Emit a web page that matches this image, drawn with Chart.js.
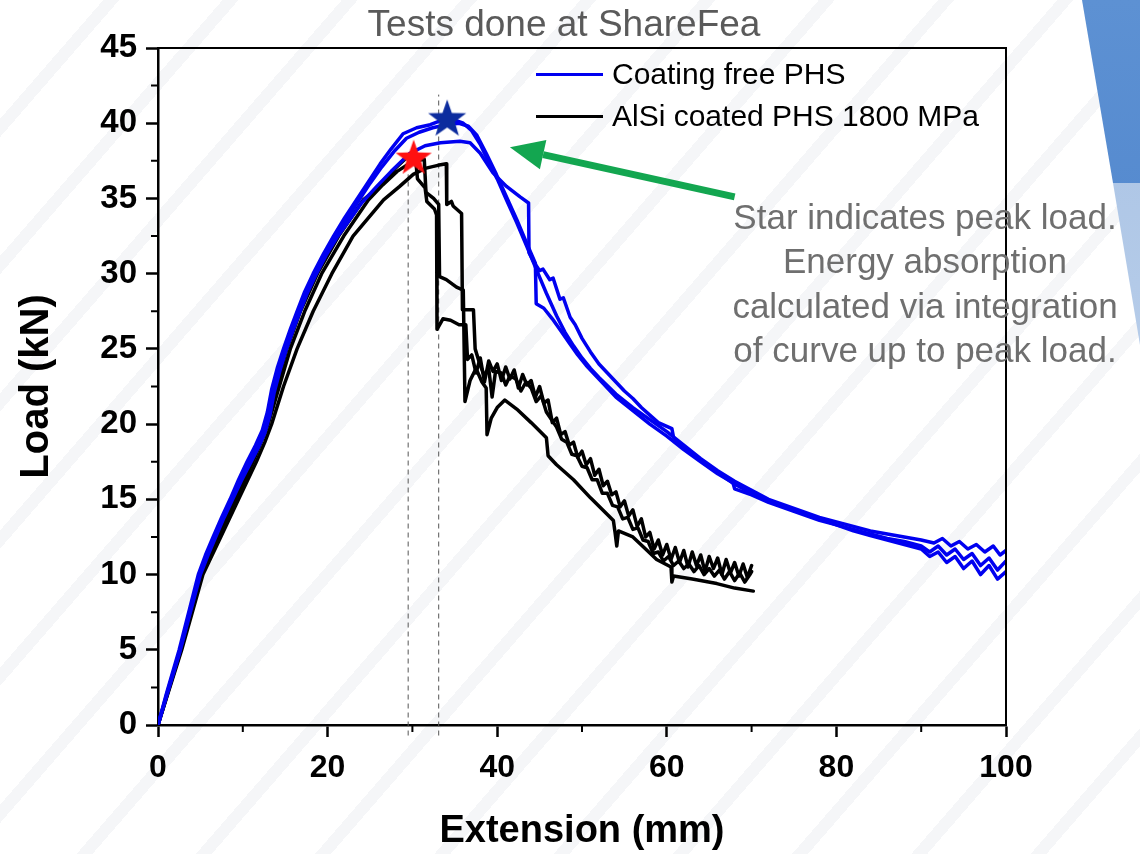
<!DOCTYPE html>
<html>
<head>
<meta charset="utf-8">
<script src="https://cdn.jsdelivr.net/npm/chart.js@4.4.1/dist/chart.umd.min.js"></script>
<style>
  html, body { margin: 0; padding: 0; }
  body {
    width: 1140px; height: 854px; overflow: hidden; position: relative;
    background-color: #fff;
    background-image: repeating-linear-gradient(131deg, rgba(255,255,255,0) 0px, rgba(255,255,255,0) 78px, #f5f6f8 78px, #f5f6f8 90px);
    font-family: 'Liberation Sans', Arial, sans-serif;
  }
  #chart { position: absolute; left: 0; top: 0; }
  .deco-dark {
    position: absolute; left: 0; top: 0; width: 1140px; height: 854px;
    background: linear-gradient(180deg, #5d91d3 0%, #3e76c3 100%);
    clip-path: polygon(1082px 0, 1140px 0, 1140px 183px, 1113px 183px);
  }
  .deco-light {
    position: absolute; left: 0; top: 0; width: 1140px; height: 854px;
    background: linear-gradient(180deg, #a8c2e4 0%, #c9daf0 100%);
    clip-path: polygon(1113px 183px, 1140px 183px, 1140px 345px);
  }
  .title {
    position: absolute; left: 364px; width: 400px; top: 4px;
    text-align: center; font-size: 37px; line-height: 40px; color: #5a5a5a; white-space: nowrap;
  }
  .legend { position: absolute; left: 536px; font-size: 30px; color: #000; white-space: nowrap; }
  .legend .swatch { position: absolute; left: 0; width: 67px; height: 3px; top: 19px; }
  .legend .label { position: absolute; left: 76px; top: 0; line-height: 40px; }
  .note {
    position: absolute; left: 715px; width: 420px; top: 195px;
    text-align: center; font-size: 35px; line-height: 44.3px; color: #6f6f6f;
  }
</style>
</head>
<body>
<div class="deco-dark"></div>
<div class="deco-light"></div>
<canvas id="chart" width="1140" height="854"></canvas>
<div class="title">Tests done at ShareFea</div>
<div class="legend" style="top:54px"><div class="swatch" style="background:#0000f0"></div><div class="label">Coating free PHS</div></div>
<div class="legend" style="top:96px"><div class="swatch" style="background:#000"></div><div class="label">AlSi coated PHS 1800 MPa</div></div>
<div class="note">Star indicates peak load.<br>Energy absorption<br>calculated via integration<br>of curve up to peak load.</div>
<script>
// Extension (mm) / Load (kN) pairs
const coatingFree1 = [[0,0],[1,2.1],[2.5,5],[4.75,10],[5.6,11.3],[6.5,12.5],[7.5,13.8],[8.5,15],[9.5,16.3],[10.5,17.5],[11.5,18.6],[12.3,19.6],[12.9,20.8],[13.4,22.3],[14.1,23.8],[14.8,25],[15.6,26.3],[16.4,27.5],[17.3,28.8],[18.3,30],[19.5,31.3],[20.7,32.5],[22,33.7],[23.4,34.9],[24.8,36.1],[26.2,37.3],[27.5,38.3],[28.9,39.3],[30.5,39.7],[32.1,39.9],[33.5,40.2],[35,40.2],[36,40.0],[37,39.5],[38,38.6],[39,37.4],[40,36.3],[41.1,34.9],[42.3,33.4],[43.5,31.8],[44.6,30.3],[45.8,28.7],[47,27.2],[48,26.1],[49,25.2],[50,24.4],[51,23.7],[52,23.1],[54,22.0],[56,21.1],[58,20.3],[60,19.5],[62,18.6],[64,17.7],[66,16.9],[68,16.2],[70,15.6],[72,15.0],[74,14.6],[76,14.2],[78,13.8],[80,13.5],[82,13.2],[84,12.9],[86,12.7],[88,12.5],[90,12.3],[91.5,12.1],[92.5,12.4],[93.5,11.9],[94.5,12.2],[95.5,11.7],[96.5,12.0],[97.5,11.5],[98.5,11.9],[99.3,11.3],[100,11.6]];
const coatingFree2 = [[0,0],[1,2.0],[2.5,4.8],[4.9,10],[5.8,11.3],[6.7,12.5],[7.7,13.8],[8.7,15],[9.7,16.2],[10.7,17.4],[11.7,18.5],[12.5,19.5],[13.1,20.7],[13.6,22.2],[14.3,23.7],[15,25],[15.8,26.3],[16.6,27.5],[17.5,28.8],[18.5,30],[19.7,31.3],[20.9,32.5],[22.2,33.6],[23.6,34.8],[25,36.0],[26.4,37.1],[27.8,38.1],[29.3,39.0],[30.8,39.4],[32.4,39.7],[34,39.9],[35.5,40.0],[36.6,39.8],[37.6,39.2],[38.7,38.0],[39.9,36.6],[41.1,35.1],[42.3,33.6],[43.5,32.0],[44.5,30.7],[44.6,28.0],[45.5,27.7],[46.5,27.0],[47.5,26.2],[48.5,25.4],[49.5,24.6],[50.5,23.9],[52,23.0],[54,21.8],[56,20.9],[58,20.0],[60,19.2],[62,18.3],[64,17.5],[66,16.7],[67.8,16.1],[68,15.7],[70,15.3],[72,14.8],[74,14.4],[76,14.0],[78,13.6],[80,13.3],[82,13.0],[84,12.7],[86,12.4],[88,12.2],[90,11.9],[91,11.5],[92,11.9],[93,11.3],[94,11.7],[95,11.0],[96,11.4],[97,10.6],[98,11.1],[99,10.3],[100,10.9]];
const coatingFree3 = [[0,0],[1,1.9],[2.5,4.7],[5.0,10],[5.9,11.3],[6.8,12.5],[7.8,13.8],[8.8,15],[9.8,16.2],[10.8,17.3],[11.8,18.4],[12.6,19.4],[13.2,20.6],[13.7,22.1],[14.4,23.6],[15.1,24.9],[15.9,26.2],[16.7,27.4],[17.6,28.7],[18.6,29.9],[19.8,31.2],[21.1,32.4],[22.5,33.5],[24,34.7],[25.8,35.8],[27.5,36.8],[29.7,38.0],[31.5,38.5],[33.3,38.7],[35.6,38.8],[36.8,38.7],[38.0,38.0],[39.5,36.7],[41.1,35.8],[42.7,35.1],[43.7,34.7],[43.75,31.4],[44.3,30.8],[45,30.2],[45.4,30.3],[46.2,29.6],[46.6,29.7],[47.4,28.3],[47.8,28.4],[48.6,27.1],[49.2,26.6],[50,25.7],[51,24.8],[52,24.0],[53,23.4],[54,22.8],[55,22.2],[56,21.7],[57,21.1],[58,20.6],[59,20.1],[60.6,19.7],[60.8,19.1],[62,18.4],[64,17.6],[66,16.8],[68,16.0],[70,15.4],[72,14.9],[74,14.5],[76,14.1],[78,13.7],[80,13.3],[82,12.9],[84,12.6],[86,12.3],[88,12.0],[90,11.7],[91,11.2],[92,11.5],[93,10.8],[94,11.2],[95,10.4],[96,10.9],[97,10.0],[98,10.6],[99,9.7],[100,10.2]];

const coated1 = [[0,0],[1,1.9],[2.6,5],[5.0,10],[6.9,12.5],[8.9,15],[10.9,17.5],[11.9,18.7],[12.8,20],[14.0,22.5],[15.2,25],[16.8,27.5],[18.8,30],[21.3,32.5],[24.2,34.9],[26.2,35.8],[28,37.0],[29.3,37.7],[30.0,38.0],[30.4,37.5],[30.6,36.3],[31.5,35.7],[31.7,34.8],[32.6,34.3],[32.85,33.9],[32.9,26.3],[33.6,27.0],[34.5,26.9],[35.5,26.6],[36.3,26.6],[36.5,24.3],[37,24.6],[37.5,23.4],[38,24.4],[38.5,22.8],[39,24.2],[39.5,23.5],[40,24.0],[40.5,22.9],[41,23.8],[41.5,23.0],[42,23.6],[42.5,22.4],[43,23.3],[43.5,22.6],[44,22.9],[44.5,21.8],[45,22.5],[45.5,21.4],[46,21.6],[46.5,20.1],[47,20.4],[47.5,19.3],[48,19.5],[48.5,18.6],[49,18.8],[49.5,17.8],[50,18.2],[50.5,17.3],[51,17.7],[51.5,16.6],[52,17.0],[52.5,15.9],[53,16.2],[53.5,15.3],[54,15.5],[54.5,14.5],[55,14.9],[55.5,13.9],[56,14.3],[56.5,13.2],[57,13.7],[57.5,12.5],[58,12.8],[58.5,11.7],[59,12.3],[59.5,11.3],[60,12.0],[60.5,11.0],[61,11.8],[61.5,10.8],[62,11.6],[62.5,10.5],[63,11.5],[63.5,10.6],[64,11.3],[64.5,10.2],[65,11.2],[65.5,10.4],[66,11.1],[66.5,10.0],[67,11.0],[67.5,10.1],[68,10.8],[68.5,9.9],[69,10.7],[69.5,9.8],[70,10.6]];
const coated2 = [[0,0],[1,1.85],[2.7,5],[5.2,10],[7.2,12.5],[9.2,15],[11.2,17.5],[12.1,18.7],[13.0,20],[14.3,22.5],[15.6,25],[17.3,27.5],[19.3,30],[21.9,32.5],[24.8,34.9],[26.5,35.9],[28.2,36.8],[29.6,37.3],[30.5,37.5],[31.4,37.6],[31.6,35.4],[32.5,35.0],[33.1,34.6],[33.2,29.8],[34,29.6],[35.2,29.1],[36.0,28.9],[36.2,21.5],[36.8,22.9],[37.5,23.7],[38.2,22.8],[38.7,22.4],[38.8,19.3],[39.3,20.4],[40,21.1],[40.9,21.6],[42.3,21.0],[44,20.1],[45.8,19.1],[46.0,17.9],[47,17.3],[49,16.3],[51,15.1],[53.7,13.6],[53.9,12.8],[54.1,11.9],[54.3,12.9],[56,12.5],[57.5,11.7],[58.8,11.0],[60.5,10.5],[60.6,9.5],[60.8,9.9],[63,9.7],[65.9,9.4],[68,9.1],[70.2,8.9]];
const coated3 = [[0,0],[1,1.8],[2.8,5],[5.3,10],[7.4,12.5],[9.5,15],[11.6,17.5],[12.6,18.8],[13.4,20],[14.8,22.5],[16.4,25],[18.3,27.5],[20.5,30],[23,32.5],[26.6,34.9],[28.5,35.8],[30.1,36.6],[31.5,37.0],[33,37.2],[34.0,37.3],[34.05,34.6],[34.6,34.8],[34.8,34.5],[35.8,34.0],[35.9,27.6],[37.2,27.6],[37.4,25.0],[38.0,23.9],[38.5,23.2],[39.0,23.7],[39.4,21.8],[39.8,23.5],[40.5,23.4],[41.0,22.6],[41.5,23.2],[42.2,23.0],[42.8,22.2],[43.4,22.8],[44,22.4],[44.6,21.5],[45.2,21.9],[45.8,20.8],[46.4,20.3],[47.0,19.8],[47.6,19.0],[48.2,18.8],[48.8,18.0],[49.4,17.9],[50,17.2],[50.6,17.1],[51.2,16.3],[51.8,16.3],[52.4,15.4],[53,15.4],[53.6,14.6],[54.2,14.5],[54.8,13.7],[55.4,13.8],[56,13.0],[56.6,13.1],[57.2,12.3],[57.8,12.2],[58.4,11.4],[59,11.5],[59.6,10.9],[60.2,11.2],[60.8,10.6],[61.4,10.9],[62,10.4],[62.6,10.7],[63.2,10.2],[63.8,10.6],[64.4,10.0],[65,10.4],[65.6,9.9],[66.2,10.3],[66.8,9.7],[67.4,10.2],[68,9.6],[68.6,10.1],[69.2,9.5],[69.8,10.0],[70,10.2]];

// peak markers and guides
const peakCoatingFree = [[34.1, 40.25]];
const peakCoated = [[30.15, 37.65]];
const guideCoated = [[29.5, -0.7], [29.5, 36.6]];
const guideCoatingFree = [[33.1, -0.7], [33.1, 41.9]];
const arrowTail = [68.0, 35.1];
const arrowTip = [41.5, 38.4];

const extTicks = [0, 20, 40, 60, 80, 100];
const minorExt = [10, 30, 50, 70, 90];
const minorLoad = [2.5, 7.5, 12.5, 17.5, 22.5, 27.5, 32.5, 37.5, 42.5];

const toXY = arr => arr.map(p => ({ x: p[0], y: p[1] }));

function starImage(color, r) {
  const c = document.createElement('canvas');
  c.width = c.height = 2 * r + 4;
  const g = c.getContext('2d');
  g.translate(r + 2, r + 2);
  g.beginPath();
  for (let i = 0; i < 10; i++) {
    const rad = i % 2 === 0 ? r : r * 0.4;
    const a = -Math.PI / 2 + i * Math.PI / 5;
    g.lineTo(rad * Math.cos(a), rad * Math.sin(a));
  }
  g.closePath();
  g.fillStyle = color;
  g.fill();
  return c;
}

const BLUE = '#0000f0';
const lineDefaults = { showLine: true, pointRadius: 0, pointHitRadius: 0, borderWidth: 3.5, borderJoinStyle: 'round', borderCapStyle: 'round', tension: 0 };

const framePlugin = {
  id: 'frame',
  afterDraw(chart) {
    const { ctx, chartArea: a, scales: { x, y } } = chart;
    ctx.save();
    ctx.strokeStyle = '#000';
    ctx.lineWidth = 2;
    ctx.beginPath();
    ctx.moveTo(a.left, a.top);
    ctx.lineTo(a.right, a.top);
    ctx.lineTo(a.right, a.bottom);
    ctx.stroke();
    // minor ticks
    ctx.beginPath();
    minorExt.forEach(v => {
      const px = x.getPixelForValue(v);
      ctx.moveTo(px, a.bottom);
      ctx.lineTo(px, a.bottom + 7);
    });
    minorLoad.forEach(v => {
      const py = y.getPixelForValue(v);
      ctx.moveTo(a.left, py);
      ctx.lineTo(a.left - 7, py);
    });
    ctx.stroke();
    ctx.restore();
  }
};

const arrowPlugin = {
  id: 'arrow',
  afterDatasetsDraw(chart) {
    const { ctx, scales: { x, y } } = chart;
    const x0 = x.getPixelForValue(arrowTail[0]), y0 = y.getPixelForValue(arrowTail[1]);
    const x1 = x.getPixelForValue(arrowTip[0]), y1 = y.getPixelForValue(arrowTip[1]);
    const ang = Math.atan2(y1 - y0, x1 - x0);
    const headLen = 34, headHalf = 15;
    const bx = x1 - headLen * Math.cos(ang), by = y1 - headLen * Math.sin(ang);
    ctx.save();
    ctx.strokeStyle = ctx.fillStyle = '#13a650';
    ctx.lineWidth = 7;
    ctx.beginPath();
    ctx.moveTo(x0, y0);
    ctx.lineTo(bx, by);
    ctx.stroke();
    ctx.beginPath();
    ctx.moveTo(x1, y1);
    ctx.lineTo(bx + headHalf * Math.sin(ang), by - headHalf * Math.cos(ang));
    ctx.lineTo(bx - headHalf * Math.sin(ang), by + headHalf * Math.cos(ang));
    ctx.closePath();
    ctx.fill();
    ctx.restore();
  }
};

Chart.defaults.font.family = "'Liberation Sans', Arial, sans-serif";

new Chart(document.getElementById('chart'), {
  type: 'scatter',
  data: {
    datasets: [
      { label: 'peak coating free', data: toXY(peakCoatingFree), pointStyle: starImage('#0c2c9e', 20), pointRadius: 20 },
      { label: 'peak coated', data: toXY(peakCoated), pointStyle: starImage('#ff1010', 19), pointRadius: 19 },
      { label: 'Coating free PHS', data: toXY(coatingFree1), borderColor: BLUE, ...lineDefaults },
      { label: 'Coating free PHS 2', data: toXY(coatingFree2), borderColor: BLUE, ...lineDefaults },
      { label: 'Coating free PHS 3', data: toXY(coatingFree3), borderColor: BLUE, ...lineDefaults },
      { label: 'AlSi coated PHS 1800 MPa', data: toXY(coated1), borderColor: '#000', ...lineDefaults },
      { label: 'AlSi coated 2', data: toXY(coated2), borderColor: '#000', ...lineDefaults },
      { label: 'AlSi coated 3', data: toXY(coated3), borderColor: '#000', ...lineDefaults },
      { label: 'guide coated', data: toXY(guideCoated), showLine: true, pointRadius: 0, borderColor: '#555', borderWidth: 1, borderDash: [5, 4], clip: false },
      { label: 'guide free', data: toXY(guideCoatingFree), showLine: true, pointRadius: 0, borderColor: '#555', borderWidth: 1, borderDash: [5, 4], clip: false }
    ]
  },
  options: {
    responsive: false,
    animation: false,
    layout: { padding: { top: 48, right: 134, left: 0, bottom: 0 } },
    plugins: { legend: { display: false }, tooltip: { enabled: false } },
    scales: {
      x: {
        type: 'linear', min: 0, max: 100,
        afterFit(s) { s.height = 129; },
        afterBuildTicks(s) { s.ticks = extTicks.map(v => ({ value: v })); },
        ticks: { color: '#000', font: { size: 32, weight: 'bold' }, padding: 12, maxRotation: 0 },
        grid: { drawOnChartArea: false, drawTicks: true, tickLength: 12, tickWidth: 2.5, tickColor: '#000' },
        border: { color: '#000', width: 2.5 },
        title: { display: true, text: 'Extension (mm)', color: '#000', font: { size: 38, weight: 'bold' }, padding: 0 }
      },
      y: {
        min: 0, max: 45,
        afterFit(s) { s.width = 158; },
        ticks: { stepSize: 5, color: '#000', font: { size: 33, weight: 'bold' }, padding: 9 },
        grid: { drawOnChartArea: false, drawTicks: true, tickLength: 12, tickWidth: 2.5, tickColor: '#000' },
        border: { color: '#000', width: 2.5 },
        title: { display: true, text: 'Load (kN)', color: '#000', font: { size: 40, weight: 'bold' }, padding: { top: 13, bottom: 0 } }
      }
    }
  },
  plugins: [framePlugin, arrowPlugin]
});
</script>
</body>
</html>
